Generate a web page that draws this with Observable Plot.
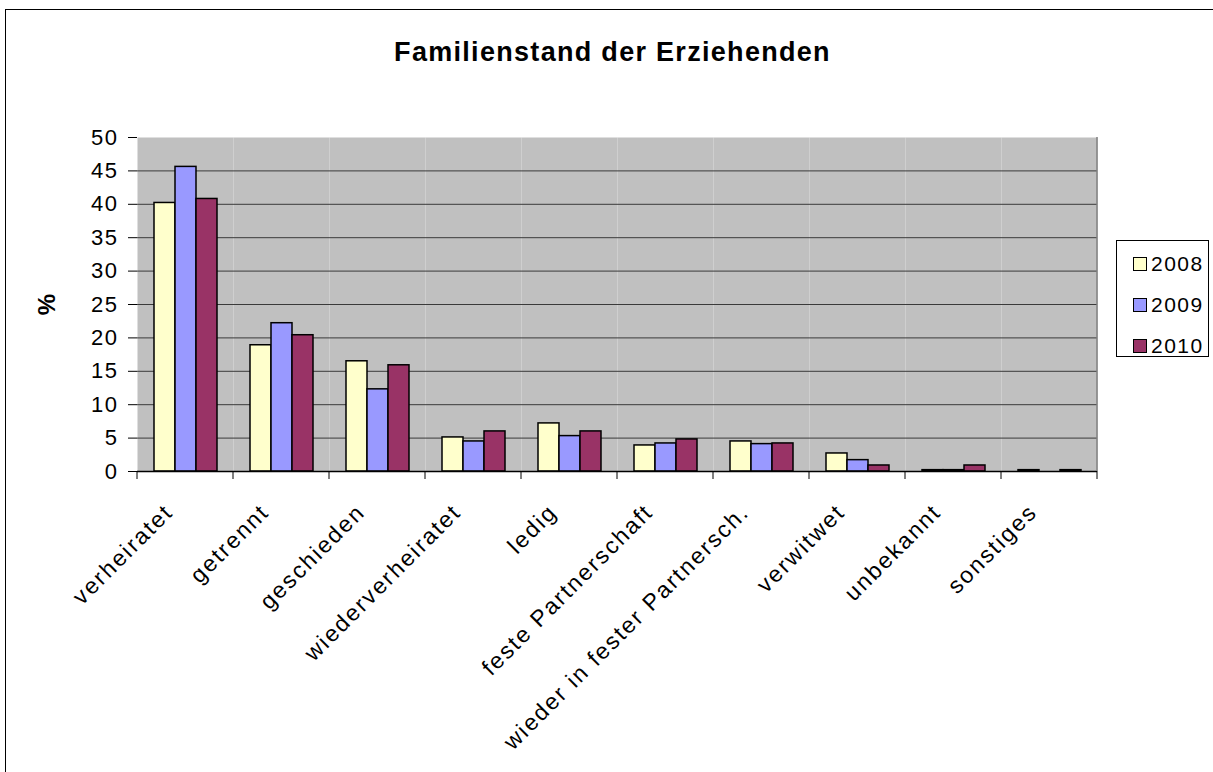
<!DOCTYPE html>
<html>
<head>
<meta charset="utf-8">
<script src="https://cdn.jsdelivr.net/npm/d3@7"></script>
<script src="https://cdn.jsdelivr.net/npm/@observablehq/plot@0.6"></script>
<style>
  html, body { margin: 0; padding: 0; overflow: hidden; background: white; }
  body { font-family: "Liberation Sans", Arial, sans-serif; width: 1213px; height: 772px; position: relative; }
  #borderTop { position: absolute; left: 5px; top: 9px; width: 1208px; height: 1px; background: #000; pointer-events: none; }
  #borderLeft { position: absolute; left: 5px; top: 9px; width: 1px; height: 763px; background: #000; pointer-events: none; }
  #cover { position: absolute; left: 1198px; top: 400px; width: 15px; height: 372px; background: #fff; z-index: 10; }
  #title { height: 100px; box-sizing: border-box; padding-top: 37px; padding-left: 12px; text-align: center;
           font-weight: bold; font-size: 27px; line-height: 30px; letter-spacing: 1.3px; color: #000; }
  #legend { position: absolute; left: 1116px; top: 240px; width: 93px; height: 117px; border: 1px solid #000;
            background: #fff; box-sizing: border-box; }
  .row { position: absolute; left: 16px; height: 24px; display: flex; align-items: center; font-size: 21px; letter-spacing: 1.5px; }
  .sw { width: 12px; height: 12px; border: 1px solid #000; margin-right: 4px; }
</style>
</head>
<body>
<div id="title">Familienstand der Erziehenden</div>
<div id="chart"></div>
<div id="legend"></div>
<div id="borderTop"></div>
<div id="borderLeft"></div>
<div id="cover"></div>
<script>
const categories = ["verheiratet", "getrennt", "geschieden", "wiederverheiratet", "ledig",
  "feste Partnerschaft", "wieder in fester Partnersch.", "verwitwet", "unbekannt", "sonstiges"];
const years = ["2008", "2009", "2010"];
const v2008 = [40.2, 18.9, 16.5, 5.1, 7.2, 3.9, 4.5, 2.7, 0.2, 0.2];
const v2009 = [45.6, 22.2, 12.3, 4.5, 5.3, 4.2, 4.1, 1.7, 0.2, 0.0];
const v2010 = [40.8, 20.4, 15.9, 6.0, 6.0, 4.8, 4.2, 0.9, 0.9, 0.2];
const colors = ["#FFFFCC", "#9999FF", "#993366"];
const yTicks = [0, 5, 10, 15, 20, 25, 30, 35, 40, 45, 50];
const gridTicks = [5, 10, 15, 20, 25, 30, 35, 40, 45];

const series = [v2008, v2009, v2010];
const rows = [];
categories.forEach((c, i) => years.forEach((yr, j) => rows.push({cat: c, year: yr, value: series[j][i]})));

const plot = Plot.plot({
  width: 1213,
  height: 672,
  marginTop: 37,
  marginBottom: 301,
  marginLeft: 137,
  marginRight: 116,
  style: {fontFamily: "'Liberation Sans', Arial, sans-serif", fontSize: "22px", color: "#000", background: "transparent", maxWidth: "none"},
  fx: {domain: categories, padding: 0, axis: null},
  x: {domain: years, paddingInner: 0, paddingOuter: 0.75, axis: null},
  y: {domain: [0, 50], axis: null},
  color: {domain: years, range: colors},
  marks: [
    Plot.frame({fill: "#C0C0C0", stroke: null}),
    Plot.gridY(gridTicks, {stroke: "#3a3a3a", strokeOpacity: 1, strokeWidth: 1}),
    Plot.barY(rows, {fx: "cat", x: "year", y: "value", fill: "year", stroke: "#000", strokeWidth: 1.5}),
    Plot.ruleY([0], {stroke: "#000", strokeWidth: 1.5}),
    Plot.axisY({ticks: yTicks, tickSize: 9, tickPadding: 10, line: true, stroke: "#000", fontSize: 22,
                label: "%", labelAnchor: "center", labelArrow: "none", labelOffset: 100}),
    Plot.text(categories, {fx: d => d, text: d => d, frameAnchor: "bottom", rotate: -45,
                textAnchor: "end", dx: -11, dy: 42, fontSize: 23, fill: "#000"})
  ]
});
document.getElementById("chart").appendChild(plot);

// Category boundary ticks, and plot-area right edge, derived from the scales
const svg = d3.select(plot);
const fx = plot.scale("fx");
const ys = plot.scale("y");
const step = fx.step || fx.bandwidth || (fx.range[1] - fx.range[0]) / categories.length;
const y0 = ys.apply(0), yTop = ys.apply(50);
const bounds = categories.map(c => fx.apply(c)).concat([fx.apply(categories[categories.length - 1]) + step]);
const g = svg.append("g").attr("aria-label", "category ticks");
g.selectAll("line").data(bounds).join("line")
  .attr("x1", d => d).attr("x2", d => d)
  .attr("y1", y0).attr("y2", y0 + 8)
  .attr("stroke", "#000").attr("stroke-width", 1);
svg.append("line")
  .attr("x1", bounds[bounds.length - 1]).attr("x2", bounds[bounds.length - 1])
  .attr("y1", yTop).attr("y2", y0).attr("stroke", "#808080").attr("stroke-width", 1.5);
svg.select('g[aria-label="y-axis label"]').attr("font-weight", "bold").attr("font-size", "24px");
svg.select('g[aria-label="y-axis tick label"]').attr("letter-spacing", "1.5px");
svg.selectAll('g[aria-label="text"]').attr("letter-spacing", "2px");

// Legend
const legend = document.getElementById("legend");
years.forEach((yr, j) => {
  const r = document.createElement("div");
  r.className = "row";
  r.style.top = (11 + j * 41) + "px";
  r.innerHTML = `<div class="sw" style="background:${colors[j]}"></div><span>${yr}</span>`;
  legend.appendChild(r);
});
</script>
</body>
</html>
